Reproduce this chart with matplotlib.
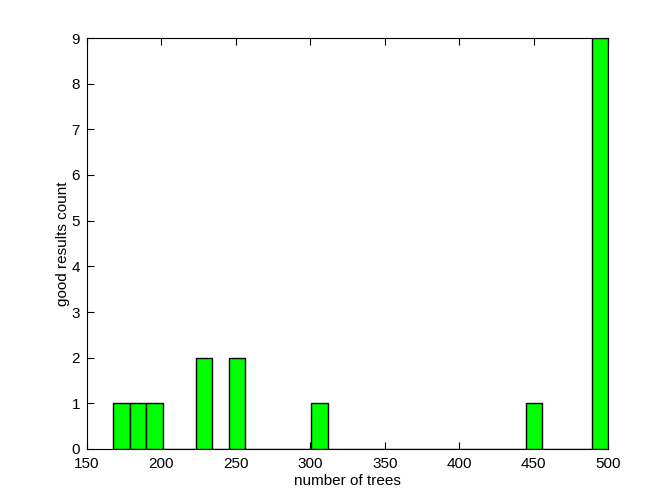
#!/usr/bin/env python3

import numpy as np
import matplotlib
matplotlib.use("Agg")
import matplotlib.pyplot as plt

# histogram of "number of trees" for good results, 30 bins
HIST_RANGE = (167.5, 500.0)
COUNTS = [1, 1, 1, 0, 0, 2, 0, 2, 0, 0,
          0, 0, 1, 0, 0, 0, 0, 0, 0, 0,
          0, 0, 0, 0, 0, 1, 0, 0, 0, 9]
X_TICKS = [150, 200, 250, 300, 350, 400, 450, 500]
Y_TICKS = list(range(0, 10))

plt.rcParams["font.family"] = ["Liberation Sans", "DejaVu Sans"]
plt.rcParams["font.size"] = 11

fig = plt.figure(figsize=(6.72, 5.04), dpi=100)
ax = fig.add_axes([87 / 672, 1 - 449 / 504, (608 - 87) / 672, (449 - 38) / 504])

edges = np.linspace(HIST_RANGE[0], HIST_RANGE[1], len(COUNTS) + 1)
ax.bar(edges[:-1], COUNTS, width=np.diff(edges), align="edge",
       color="#00FF00", edgecolor="black", linewidth=1.0, zorder=3)

ax.set_xlim(150, 500)
ax.set_ylim(0, 9)
ax.set_xticks(X_TICKS)
ax.set_yticks(Y_TICKS)
ax.tick_params(direction="in", length=5, width=0.8, top=True, right=True,
               labelsize=11)
ax.tick_params(axis="x", pad=6)
ax.tick_params(axis="y", pad=5)
for s in ax.spines.values():
    s.set_linewidth(0.8)

ax.set_xlabel("number of trees", labelpad=2)
ax.set_ylabel("good results count", labelpad=1)

fig.savefig("out.png", dpi=100)
